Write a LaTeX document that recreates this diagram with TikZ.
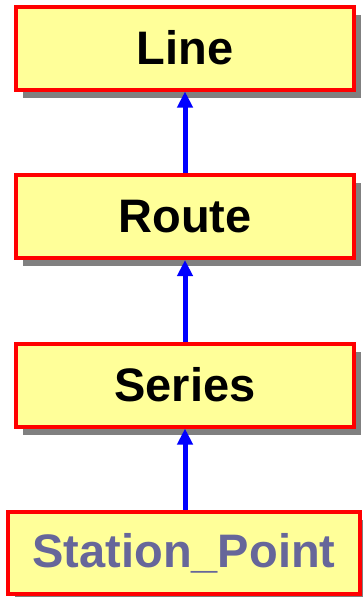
\documentclass[tikz,border=0pt]{standalone}
\usepackage{fontspec}
\setmainfont{Liberation Sans}
\usetikzlibrary{arrows.meta, shadows}
\definecolor{clsfill}{HTML}{FFFF99}
\definecolor{leaftext}{HTML}{66669A}

\begin{document}
\begin{tikzpicture}[x=1pt,y=1pt,
    cls/.style={draw=red, line width=4pt, fill=clsfill,
      font=\fontsize{47}{50}\selectfont\bfseries,
      minimum width=338pt, minimum height=83pt, inner sep=0pt,
      drop shadow={shadow xshift=7pt, shadow yshift=-8pt,
        fill=black!50, opacity=1}},
    link/.style={draw=blue, line width=5pt,
      -{Triangle[length=16pt,width=15pt]}}]
  \useasboundingbox (0,0) rectangle (362,-597);
  \node[cls] (line) at (185,-48) {Line};
  \node[cls] (route) at (185,-216.5) {Route};
  \node[cls] (series) at (185,-385) {Series};
  \node[cls, text=leaftext, minimum width=352pt, minimum height=82pt]
    (station) at (184,-553) {Station\_Point};
  \draw[link] (station.north -| series) -- (series.south);
  \draw[link] (series) -- (route);
  \draw[link] (route) -- (line);
\end{tikzpicture}
\end{document}
